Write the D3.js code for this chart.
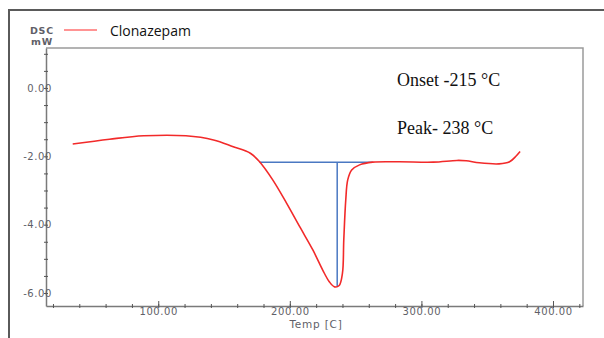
<!DOCTYPE html>
<html>
<head>
<meta charset="utf-8">
<script src="https://cdn.jsdelivr.net/npm/d3@7"></script>
<style>
  body { margin: 0; background: #fff; }
</style>
</head>
<body>
<div class="dsc-chart"></div>
<script>
// DSC curve (temperature in C, heat flow in mW)
const temps = [35, 63, 89, 121, 142, 157, 170, 177, 187, 197.5, 207.5, 217.5, 225, 230, 234, 237.5, 240, 241, 242.5, 244, 247, 253, 263, 283, 309, 327, 334, 344, 359, 367, 372, 375];
const dscValues = [-1.64, -1.50, -1.40, -1.40, -1.52, -1.72, -1.91, -2.16, -2.69, -3.37, -4.06, -4.74, -5.33, -5.67, -5.82, -5.78, -5.42, -4.45, -3.28, -2.69, -2.40, -2.25, -2.17, -2.16, -2.17, -2.12, -2.13, -2.19, -2.22, -2.16, -1.99, -1.86];

// onset baseline and peak marker
const baseTemps = [177, 263];
const baseValue = -2.17;
const peakTemp = 236;
const peakValue = -5.80;

// ticks
const xMajor = [100, 200, 300, 400];
const xMinor = d3.range(20, 421, 20);
const yMajor = [0, -2, -4, -6];
const yMinor = d3.range(1, -6.01, -0.5);

const seriesName = "Clonazepam";
const notes = ["Onset -215 \u00B0C", "Peak- 238 \u00B0C"];

const width = 604;
const height = 338;
const plot = { left: 46, right: 583, top: 48, bottom: 306 };

// plain hyphen instead of d3's unicode minus
const fmt = d => d.toFixed(2);

const svg = d3.select(".dsc-chart")
  .append("svg")
  .attr("width", width)
  .attr("height", height);

// outer frame (only left and top edges show)
svg.append("path")
  .attr("d", `M9,${height} L9,10 L${width},10`)
  .attr("fill", "none")
  .attr("stroke", "#5a5a5a")
  .attr("stroke-width", 2);

const x = d3.scaleLinear().domain([14.7, 422.8]).range([plot.left, plot.right]);
const y = d3.scaleLinear().domain([-6.38, 1.17]).range([plot.bottom, plot.top]);

// plot box top and right
svg.append("path")
  .attr("d", `M${plot.left},${plot.top} L${plot.right},${plot.top} L${plot.right},${plot.bottom}`)
  .attr("fill", "none")
  .attr("stroke", "#9a9a9a")
  .attr("stroke-width", 1.5);

const axisColor = "#7a7a7a";
const labelColor = "#5f5f68";

// x axis: minor ticks then labels
const xAxis = svg.append("g")
  .attr("transform", `translate(0, ${plot.bottom})`)
  .call(d3.axisBottom(x).tickValues(xMinor).tickSize(2).tickSizeOuter(0).tickFormat(""));
xAxis.select(".domain").attr("stroke", axisColor).attr("stroke-width", 1.5);
xAxis.selectAll(".tick line").attr("y1", -2).attr("y2", 2).attr("stroke", "#555");

const xLabels = svg.append("g")
  .attr("transform", `translate(0, ${plot.bottom})`)
  .call(d3.axisBottom(x).tickValues(xMajor).tickSize(0).tickFormat(fmt));
xLabels.select(".domain").remove();
xLabels.selectAll("text")
  .attr("y", 2)
  .attr("dy", "0.71em")
  .attr("fill", labelColor)
  .style("font-family", "DejaVu Sans")
  .style("font-size", "10px")
  .style("letter-spacing", "0.6px");
xLabels.selectAll(".tick").append("line")
  .attr("y1", -5).attr("y2", 0).attr("stroke", "#555");

// y axis
const yAxis = svg.append("g")
  .attr("transform", `translate(${plot.left}, 0)`)
  .call(d3.axisLeft(y).tickValues(yMinor).tickSize(2).tickSizeOuter(0).tickFormat(""));
yAxis.select(".domain").attr("stroke", axisColor).attr("stroke-width", 1.5);
yAxis.selectAll(".tick line").attr("x1", -2).attr("x2", 2).attr("stroke", "#555");

const yLabels = svg.append("g")
  .attr("transform", `translate(${plot.left}, 0)`)
  .call(d3.axisLeft(y).tickValues(yMajor).tickSize(0).tickFormat(fmt));
yLabels.select(".domain").remove();
yLabels.selectAll("text")
  .attr("x", 6)
  .attr("fill", labelColor)
  .style("font-family", "DejaVu Sans")
  .style("font-size", "10px")
  .style("letter-spacing", "0.6px");

// axis titles
svg.append("text")
  .attr("x", 316)
  .attr("y", 328)
  .attr("text-anchor", "middle")
  .attr("fill", labelColor)
  .style("font-family", "DejaVu Sans")
  .style("font-size", "10.5px")
  .style("letter-spacing", "0.8px")
  .text("Temp [C]");

svg.selectAll(".unit")
  .data(["DSC", "mW"])
  .join("text")
  .attr("class", "unit")
  .attr("x", 42)
  .attr("y", (d, i) => 34 + i * 11)
  .attr("text-anchor", "middle")
  .attr("fill", labelColor)
  .style("font-family", "DejaVu Sans")
  .style("font-size", "9.5px")
  .style("font-weight", "bold")
  .style("letter-spacing", "0.8px")
  .text(d => d);

// legend
svg.append("line")
  .attr("x1", 64).attr("x2", 97)
  .attr("y1", 30).attr("y2", 30)
  .attr("stroke", "#ff7070")
  .attr("stroke-width", 1.5);

svg.append("text")
  .attr("x", 110)
  .attr("y", 36)
  .attr("fill", "#111")
  .style("font-family", "Open Sans")
  .style("font-size", "14px")
  .text(seriesName);

// onset baseline and peak line
svg.append("line")
  .attr("x1", x(baseTemps[0])).attr("x2", x(baseTemps[1]))
  .attr("y1", y(baseValue)).attr("y2", y(baseValue))
  .attr("stroke", "#4a78c2")
  .attr("stroke-width", 1.5);

svg.append("line")
  .attr("x1", x(peakTemp)).attr("x2", x(peakTemp))
  .attr("y1", y(baseValue)).attr("y2", y(peakValue))
  .attr("stroke", "#4a78c2")
  .attr("stroke-width", 1.5);

// the DSC curve
const data = temps.map((t, i) => ({ t: t, v: dscValues[i] }));
const line = d3.line()
  .x(d => x(d.t))
  .y(d => y(d.v))
  .curve(d3.curveCatmullRom.alpha(0.5));

svg.append("path")
  .datum(data)
  .attr("d", line)
  .attr("fill", "none")
  .attr("stroke", "#f22a2a")
  .attr("stroke-width", 1.6);

// annotations
svg.selectAll(".note")
  .data(notes)
  .join("text")
  .attr("class", "note")
  .attr("x", 397)
  .attr("y", (d, i) => 86 + i * 48)
  .attr("fill", "#111")
  .style("font-family", "Liberation Serif")
  .style("font-size", "18px")
  .text(d => d);
</script>
</body>
</html>
